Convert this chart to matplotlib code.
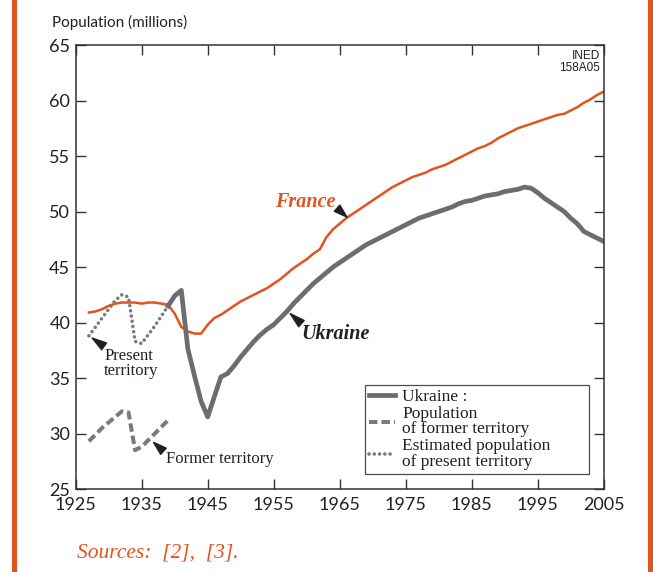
import matplotlib
matplotlib.use("Agg")
import matplotlib.pyplot as plt
from matplotlib.lines import Line2D
from matplotlib.patches import Rectangle
from matplotlib import font_manager

# ---------------- data ----------------
france_years = list(range(1927, 2006))
france_pop = [40.9, 41.0, 41.2, 41.5, 41.7, 41.8, 41.8, 41.8, 41.7, 41.8,
              41.8, 41.7, 41.6, 40.8, 39.6, 39.2, 39.0, 39.0, 39.8, 40.4,
              40.7, 41.1, 41.5, 41.9, 42.2, 42.5, 42.8, 43.1, 43.5, 43.9,
              44.4, 44.9, 45.3, 45.7, 46.2, 46.6, 47.7, 48.4, 48.9, 49.4,
              49.8, 50.2, 50.6, 51.0, 51.4, 51.8, 52.2, 52.5, 52.8, 53.1,
              53.3, 53.5, 53.8, 54.0, 54.2, 54.5, 54.8, 55.1, 55.4, 55.7,
              55.9, 56.2, 56.6, 56.9, 57.2, 57.5, 57.7, 57.9, 58.1, 58.3,
              58.5, 58.7, 58.8, 59.1, 59.4, 59.8, 60.1, 60.5, 60.8]

ukr_years = list(range(1939, 2006))
ukr_pop = [41.5, 42.4, 42.9, 37.6, 35.2, 32.9, 31.5, 33.3, 35.1, 35.4,
           36.1, 36.9, 37.6, 38.3, 38.9, 39.4, 39.8, 40.4, 41.0, 41.7,
           42.3, 42.9, 43.5, 44.0, 44.5, 45.0, 45.4, 45.8, 46.2, 46.6,
           47.0, 47.3, 47.6, 47.9, 48.2, 48.5, 48.8, 49.1, 49.4, 49.6,
           49.8, 50.0, 50.2, 50.4, 50.7, 50.9, 51.0, 51.2, 51.4, 51.5,
           51.6, 51.8, 51.9, 52.0, 52.2, 52.1, 51.7, 51.2, 50.8, 50.4,
           50.0, 49.4, 48.9, 48.2, 47.9, 47.6, 47.3]

prewar_years = list(range(1927, 1940))
former_territory = [29.3, 29.9, 30.5, 31.0, 31.5, 32.0, 31.9, 28.5, 28.8,
                    29.4, 30.0, 30.6, 31.2]
present_territory = [38.8, 39.6, 40.4, 41.2, 42.0, 42.5, 42.3, 38.3, 38.1,
                     38.9, 39.7, 40.6, 41.5]

x_ticks = [1925, 1935, 1945, 1955, 1965, 1975, 1985, 1995, 2005]
y_ticks = [25, 30, 35, 40, 45, 50, 55, 60, 65]

legend_labels = ["Ukraine :", "Population\nof former territory",
                 "Estimated population\nof present territory"]

# ---------------- style ----------------
ORANGE = "#E1531F"
GRAY = "#6C6D70"
GRAY2 = "#7A7B7E"
DARK = "#231F20"
SANS = "Lato"
SERIF = "Liberation Serif"

names = {f.name for f in font_manager.fontManager.ttflist}
NARROW = "Liberation Sans Narrow" if "Liberation Sans Narrow" in names else "Liberation Sans"

fig = plt.figure(figsize=(6.53, 5.72), dpi=100)
ax = fig.add_axes([0.1159, 0.1451, 0.8086, 0.7762])

ax.plot(france_years, france_pop, color=ORANGE, lw=1.8, solid_joinstyle="round")
ax.plot(ukr_years, ukr_pop, color=GRAY, lw=3.4, solid_joinstyle="round")
ax.plot(prewar_years, former_territory, color=GRAY2, lw=2.9, dashes=(2.1, 1.0))
ax.plot(prewar_years, present_territory, color=GRAY2, lw=2.6,
        dashes=(0.01, 1.45), dash_capstyle="round")

ax.set_xlim(1925, 2005)
ax.set_ylim(25, 65)
ax.set_xticks(x_ticks)
ax.set_yticks(y_ticks)
ax.tick_params(direction="in", length=7, width=1.0, color="#333333",
               top=True, right=True, labelsize=13, labelcolor="#231F20")
ax.tick_params(axis="x", pad=6)
ax.tick_params(axis="y", pad=4)
for lab in ax.get_xticklabels() + ax.get_yticklabels():
    lab.set_fontfamily(SANS)
for sp in ax.spines.values():
    sp.set_color("#333333")
    sp.set_linewidth(1.1)

fig.text(52 / 653, 1 - 22 / 572, "Population (millions)", family=SANS,
         fontsize=11, color=DARK, ha="left", va="center")

ax.text(0.993, 0.988, "INED\n158A05", transform=ax.transAxes, ha="right",
        va="top", family=NARROW, fontsize=8.5, color=DARK, linespacing=1.0)

# labels and pointer wedges
ax.text(1955.2, 50.38, "France", color=ORANGE, family=SERIF, fontsize=14.5,
        style="italic", weight="bold", ha="left", va="baseline")
ax.text(1959.2, 38.55, "Ukraine", color=DARK, family=SERIF, fontsize=14.5,
        style="italic", weight="bold", ha="left", va="baseline")
ax.text(1929.3, 37.7, "Present\nterritory", color=DARK, family=SERIF,
        fontsize=12, ha="left", va="top", linespacing=0.9)
ax.text(1938.7, 27.3, "Former territory", color=DARK, family=SERIF,
        fontsize=12, ha="left", va="baseline")

wedge = dict(arrowstyle="wedge,tail_width=0.6,shrink_factor=0.5", color=DARK,
             shrinkA=0, shrinkB=0)
ax.annotate("", xy=(1966.1, 49.5), xytext=(1964.6, 50.3), arrowprops=wedge)
ax.annotate("", xy=(1957.5, 40.8), xytext=(1959.2, 39.9), arrowprops=wedge)
ax.annotate("", xy=(1927.5, 38.6), xytext=(1929.3, 37.85), arrowprops=wedge)
ax.annotate("", xy=(1936.8, 29.2), xytext=(1938.3, 28.4), arrowprops=wedge)

handles = [Line2D([], [], color=GRAY, lw=3.4),
           Line2D([], [], color=GRAY2, lw=2.9, dashes=(2.1, 1.0)),
           Line2D([], [], color=GRAY2, lw=2.6, dashes=(0.01, 1.45),
                  dash_capstyle="round")]
leg = ax.legend(handles, legend_labels, loc="lower left",
                bbox_to_anchor=(0.548, 0.0338, 0.4247, 0.198), mode="expand",
                borderaxespad=0, frameon=True, fancybox=False, edgecolor=DARK,
                prop={"family": SERIF, "size": 12.5}, handlelength=1.45,
                handletextpad=0.45, labelspacing=0.05, borderpad=0.25)
leg.get_frame().set_linewidth(0.9)
for t in leg.get_texts():
    t.set_linespacing(0.95)
    t.set_color(DARK)

fig.text(77 / 653, 1 - 553 / 572, "Sources:  [2],  [3].", color=ORANGE,
         family=SERIF, style="italic", fontsize=15.5, ha="left", va="center")

# orange side bars
fig.patches.append(Rectangle((11.7 / 653, 0), 5 / 653, 1, transform=fig.transFigure,
                             facecolor=ORANGE, edgecolor="none"))
fig.patches.append(Rectangle((648.3 / 653, 0), 5 / 653, 1, transform=fig.transFigure,
                             facecolor=ORANGE, edgecolor="none"))

fig.savefig("out.png", dpi=100)
